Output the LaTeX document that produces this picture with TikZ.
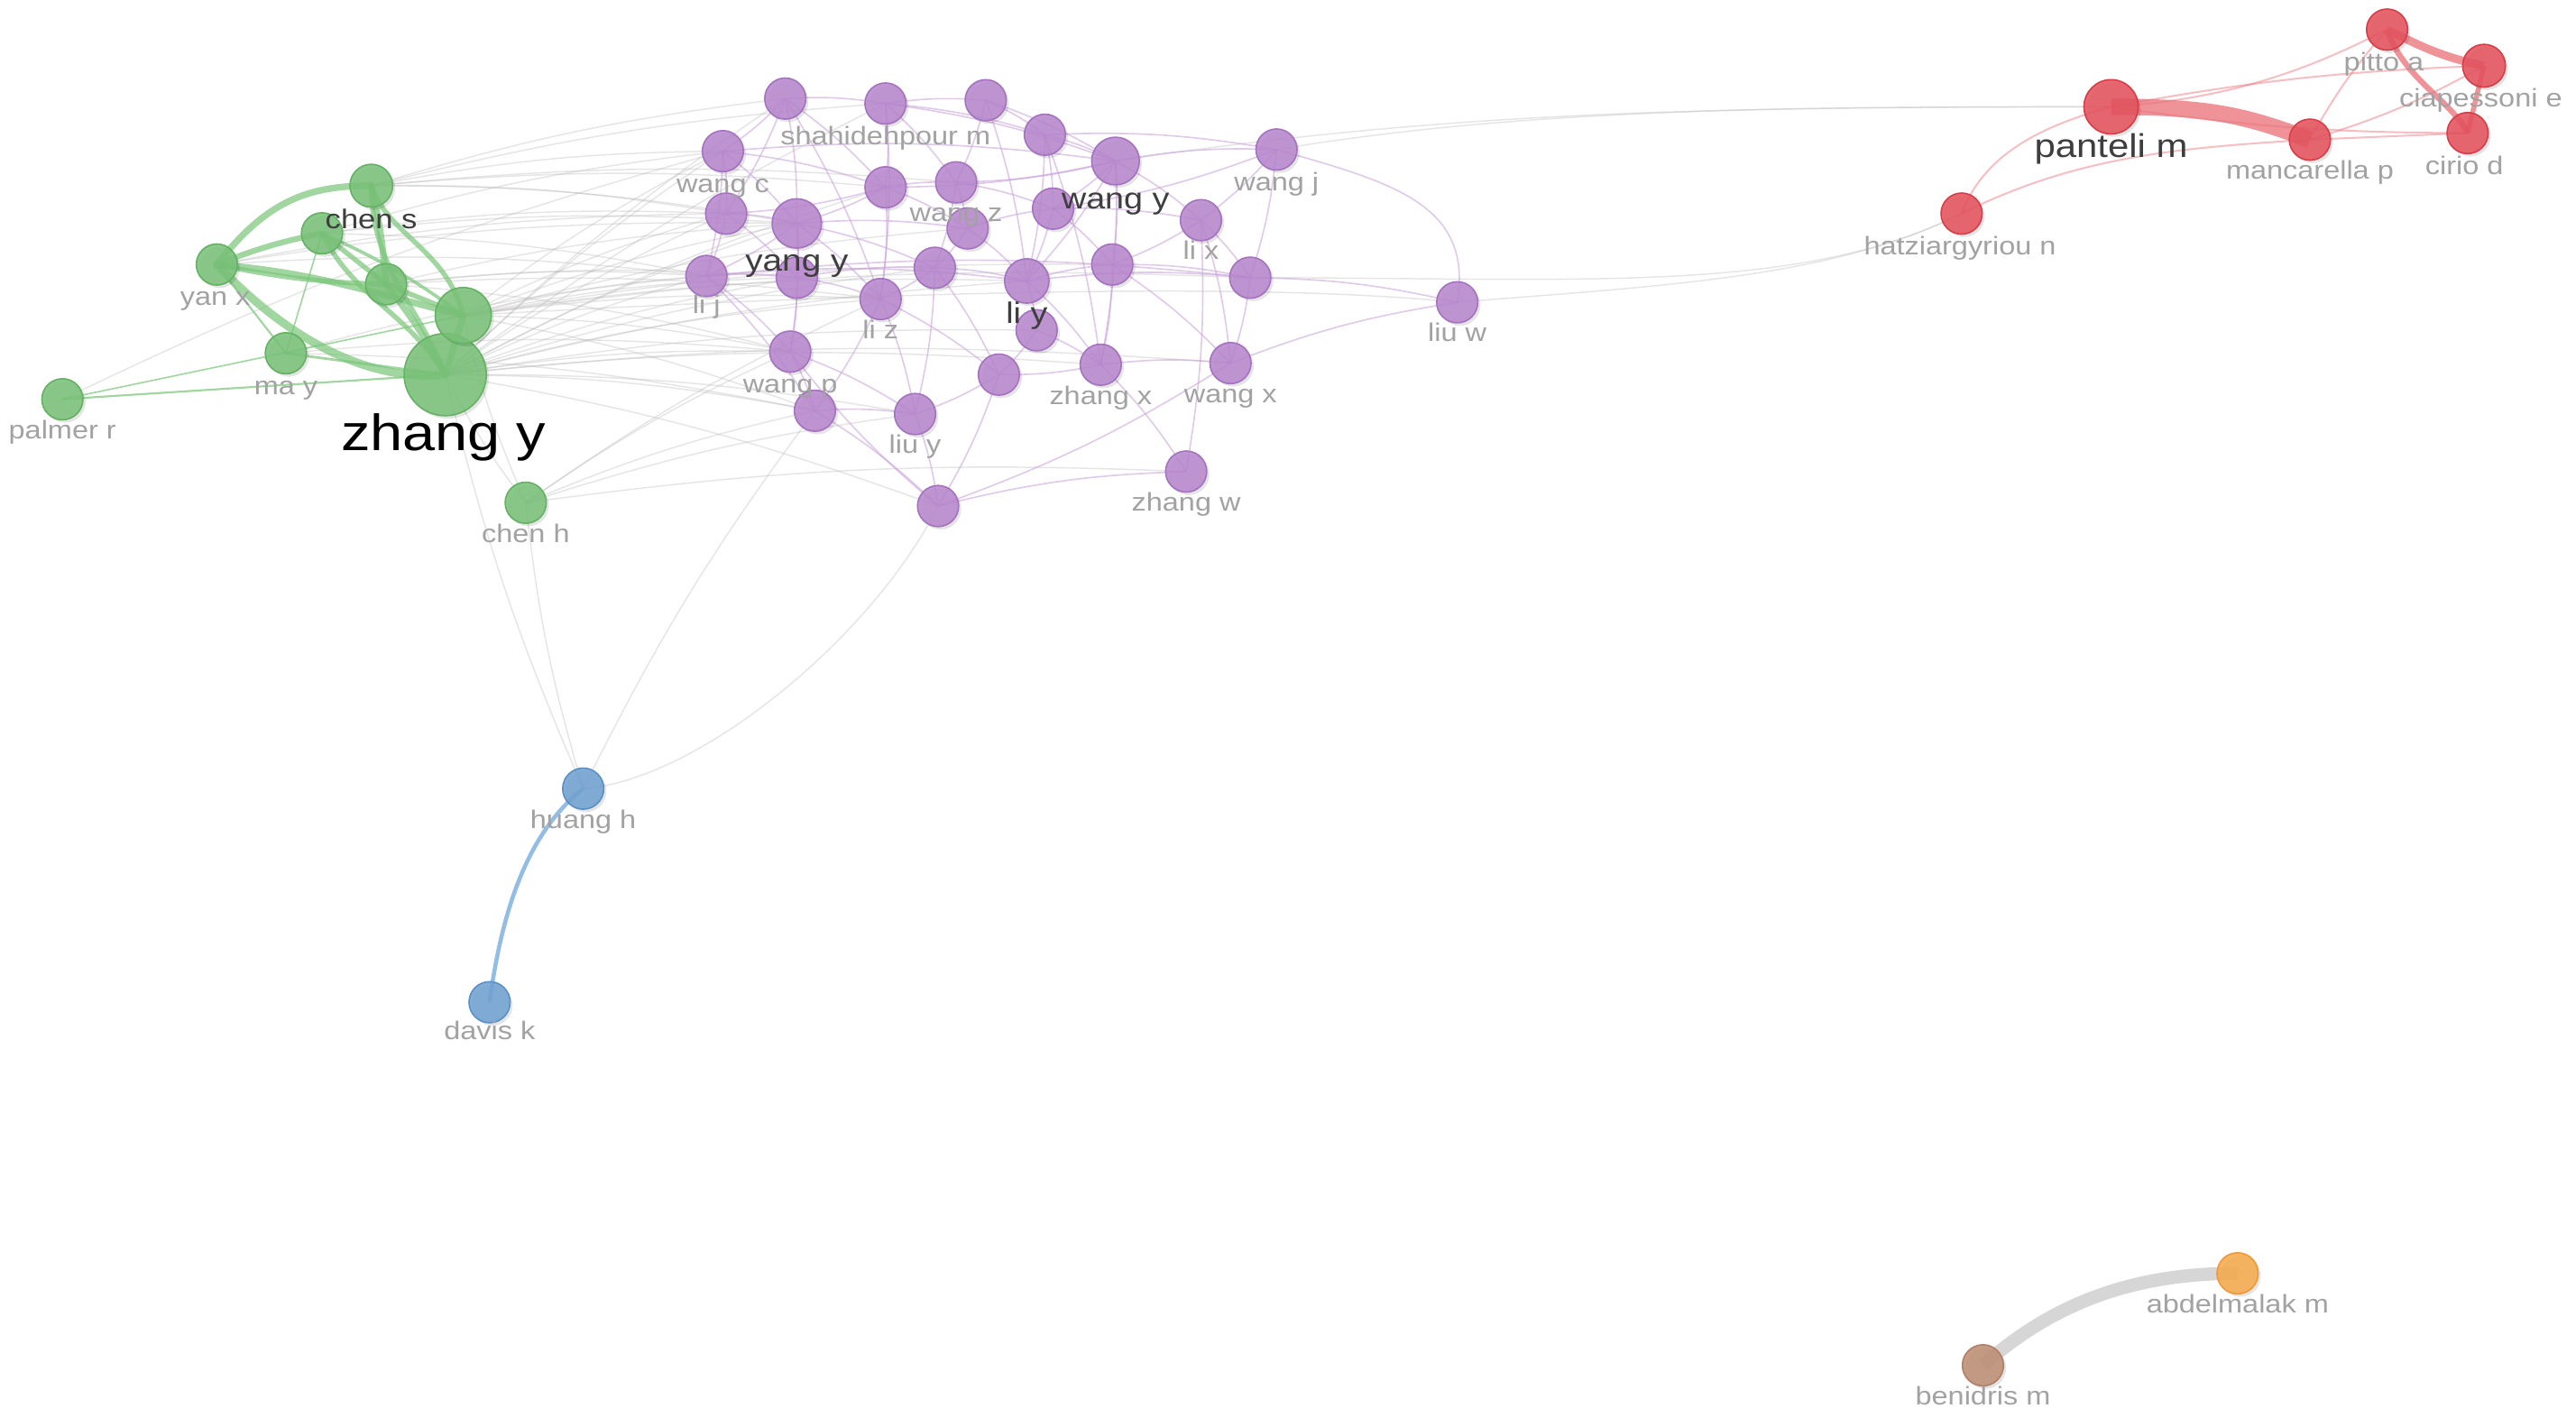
\documentclass[tikz,border=0pt]{standalone}
\usepackage{fontspec}
\usetikzlibrary{shadows}
\newfontfamily\lab[FakeStretch=1.15]{Liberation Sans}
\definecolor{cG}{RGB}{122,194,122}
\definecolor{cGd}{RGB}{100,178,100}
\definecolor{cGe}{RGB}{122,198,122}
\definecolor{cP}{RGB}{184,136,206}
\definecolor{cPd}{RGB}{165,115,192}
\definecolor{cPe}{RGB}{200,160,218}
\definecolor{cR}{RGB}{228,84,94}
\definecolor{cRd}{RGB}{215,62,72}
\definecolor{cRe}{RGB}{234,112,120}
\definecolor{cB}{RGB}{114,162,210}
\definecolor{cBd}{RGB}{90,145,200}
\definecolor{cBe}{RGB}{130,178,226}
\definecolor{cO}{RGB}{246,172,78}
\definecolor{cOd}{RGB}{240,152,55}
\definecolor{cBr}{RGB}{190,144,118}
\definecolor{cBrd}{RGB}{178,126,100}
\definecolor{cE}{RGB}{185,185,185}
\definecolor{cL}{RGB}{162,162,162}
\definecolor{cD}{RGB}{62,62,62}
\pgfdeclarelayer{bgl}
\pgfdeclarelayer{edges}
\pgfsetlayers{bgl,edges,main}
\tikzset{
  vn/.style={circle, inner sep=0pt, minimum size=#1pt, fill opacity=0.88, line width=0.9pt,
    drop shadow={shadow xshift=1.6pt, shadow yshift=-1.8pt, opacity=0.1, fill=black}},
  gn/.style={vn=#1, fill=cG, draw=cGd},
  pn/.style={vn=#1, fill=cP, draw=cPd},
  rn/.style={vn=#1, fill=cR, draw=cRd},
  bn/.style={vn=#1, fill=cB, draw=cBd},
  on/.style={vn=#1, fill=cO, draw=cOd},
  brn/.style={vn=#1, fill=cBr, draw=cBrd},
  lbl/.style={anchor=base, inner sep=0pt, text=cL, font=\lab\fontsize{15.5}{18}\selectfont},
  lbld/.style={anchor=base, inner sep=0pt, text=cD, font=\lab\fontsize{#1}{#1}\selectfont},
  ge/.style={draw=cGe, line width=#1pt, draw opacity=0.7, line cap=round},
  pe/.style={draw=cPe, line width=0.9pt, draw opacity=0.55},
  ye/.style={draw=cE, line width=0.8pt, draw opacity=0.36},
  re/.style={draw=cRe, line width=#1pt, draw opacity=0.75},
  rt/.style={draw=cRe, line width=1.1pt, draw opacity=0.45},
}
\begin{document}
\begin{tikzpicture}[x=1pt,y=-1pt]
\begin{pgfonlayer}{bgl}
\fill[white] (0,0) rectangle (1568,868);
\end{pgfonlayer}
\useasboundingbox (0,0) rectangle (1568,868);
% green cluster
\node[gn=50] (zy) at (271,228) {};
\node[gn=34] (gb) at (282,192) {};
\node[gn=26] (cs) at (226,113) {};
\node[gn=25] (ga) at (196,142) {};
\node[gn=25] (gc) at (235,173) {};
\node[gn=25] (yx) at (132,161) {};
\node[gn=25] (my) at (174,215) {};
\node[gn=25] (pr) at (38,243) {};
\node[gn=25] (ch) at (320,306) {};
% purple cluster
\node[pn=25] (p1) at (478,60) {};
\node[pn=25] (sm) at (539,63) {};
\node[pn=25] (p3) at (600,61) {};
\node[pn=25] (p4) at (636,82) {};
\node[pn=25] (wc) at (440,92) {};
\node[pn=29] (wy) at (679,98) {};
\node[pn=25] (wj) at (777,91) {};
\node[pn=25] (p8) at (539,114) {};
\node[pn=25] (wz) at (582,111) {};
\node[pn=25] (p10) at (442,130) {};
\node[pn=30] (yy) at (485,136) {};
\node[pn=25] (p12) at (589,139) {};
\node[pn=25] (p13) at (641,127) {};
\node[pn=25] (lx) at (731,134) {};
\node[pn=25] (lj) at (430,168) {};
\node[pn=25] (p16) at (485,169) {};
\node[pn=25] (p17) at (569,163) {};
\node[pn=27] (ly) at (625,171) {};
\node[pn=25] (p19) at (677,161) {};
\node[pn=25] (p20) at (761,169) {};
\node[pn=25] (lz) at (536,182) {};
\node[pn=25] (p22) at (631,201) {};
\node[pn=25] (lw) at (887,184) {};
\node[pn=25] (wp) at (481,214) {};
\node[pn=25] (zx) at (670,222) {};
\node[pn=25] (wx) at (749,221) {};
\node[pn=25] (p27) at (608,228) {};
\node[pn=25] (p28) at (496,250) {};
\node[pn=25] (liy) at (557,252) {};
\node[pn=25] (zw) at (722,287) {};
\node[pn=25] (p31) at (571,308) {};
% red cluster
\node[rn=33] (pm) at (1285,65) {};
\node[rn=25] (pa) at (1453,18) {};
\node[rn=26] (ce) at (1512,40) {};
\node[rn=25] (cd) at (1502,81) {};
\node[rn=25] (mp) at (1406,85) {};
\node[rn=25] (hn) at (1194,130) {};
% blue, orange, brown
\node[bn=25] (hh) at (355,480) {};
\node[bn=25] (dk) at (298,610) {};
\node[on=25] (ab) at (1362,775) {};
\node[brn=25] (bm) at (1207,831) {};

\begin{pgfonlayer}{edges}
% gray inter-cluster edges
\foreach \a/\b in {zy/wc,zy/p10,zy/lj,zy/yy,zy/p16,zy/lz,zy/wp,zy/p28,zy/liy,zy/ly,zy/p17,zy/p1,zy/p22,zy/zx,zy/wx,zy/p31,zy/sm,zy/p8,
  gb/lj,gb/p16,gb/yy,gb/lz,gb/ly,gb/p10,gb/wc,gb/p28,gb/wp,gb/p19,gb/p20,gb/p12,
  cs/p1,cs/wc,cs/p10,cs/yy,cs/sm,cs/p8,cs/wz,
  ga/p10,ga/lj,ga/yy,ga/wc,gc/lj,gc/p16,gc/wp,gc/yy,gc/lz,
  yx/lj,yx/yy,yx/p10,my/wp,my/lj,my/p28,pr/wc,
  ch/zw,ch/p28,ch/lz,ch/liy,ch/wp,hh/ch,hh/zy,hh/p28,ch/zy,ch/gb}
  \draw[ye] (\a.center) to[bend left=5] (\b.center);
\draw[ye] (gb.center) .. controls (500,180) and (750,170) .. (lw.center);
\draw[ye] (wj.center) .. controls +(150,-25) and +(-200,0) .. (pm.center);
\draw[ye] (wy.center) .. controls +(200,-30) and +(-250,0) .. (pm.center);
\draw[ye] (lw.center) .. controls +(120,-10) and +(-80,40) .. (hn.center);
\draw[ye] (p20.center) .. controls +(200,0) and +(-100,50) .. (hn.center);
\draw[ye] (hh.center) .. controls +(70,-5) and +(-40,80) .. (p31.center);
% purple edges
\foreach \a/\b in {p1/sm,p1/wc,p1/p8,p1/yy,p1/p10,p1/lz,sm/p3,sm/p8,sm/p4,sm/wz,sm/wy,sm/lz,
  p3/p4,p3/wz,p3/wy,p3/ly,p4/wy,p4/wj,p4/p13,p4/ly,p4/zx,wc/p10,wc/p8,wc/yy,wc/wy,wc/lj,
  wy/wj,wy/p13,wy/lx,wy/p19,wy/ly,wy/zx,wy/wz,wy/p8,wj/lx,wj/p20,wj/p13,
  p8/wz,p8/yy,p8/lz,p8/p10,p8/p12,wz/p12,wz/p13,wz/p17,p10/yy,p10/lj,p10/p16,
  yy/p16,yy/lj,yy/p17,yy/wp,yy/lz,yy/p12,p12/p17,p12/ly,p12/p13,p13/lx,p13/p19,p13/ly,
  lx/p19,lx/p20,lx/wx,lx/zw,lj/p16,lj/wp,lj/p28,lj/ly,lj/p20,p16/lz,p16/wp,p16/p17,
  p17/ly,p17/lz,p17/liy,p17/p27,ly/p19,ly/p22,ly/zx,ly/p20,p19/p20,p19/zx,p19/wx,p20/wx,
  p20/lw,lz/liy,lz/p27,lz/p28,p22/p27,p22/zx,wp/p28,wp/liy,zx/wx,zx/zw,zx/p27,wx/lw,
  p27/liy,p27/p31,p28/liy,p28/p31,liy/p31,p31/zw,p31/wp,wx/p31}
  \draw[pe] (\a.center) to[bend left=6] (\b.center);
\draw[pe] (wj.center) .. controls +(70,20) and +(10,-60) .. (lw.center);
% green edges
\draw[ge=4] (yx.center) .. controls +(30,-38) and +(-40,0) .. (cs.center);
\draw[ge=3.5] (yx.center) to[bend left=5] (ga.center);
\draw[ge=4] (yx.center) .. controls +(60,5) and +(-60,-15) .. (gb.center);
\draw[ge=5] (yx.center) .. controls +(40,42) and +(-50,5) .. (zy.center);
\draw[ge=3] (yx.center) to[bend right=5] (gc.center);
\draw[ge=1.2] (yx.center) -- (my.center);
\draw[ge=4] (cs.center) to[bend left=4] (gc.center);
\draw[ge=3] (cs.center) .. controls +(0,50) and +(-15,-40) .. (zy.center);
\draw[ge=3] (cs.center) .. controls +(10,30) and +(-10,-40) .. (gb.center);
\draw[ge=3] (ga.center) .. controls +(20,40) and +(-25,-40) .. (zy.center);
\draw[ge=3] (ga.center) -- (gc.center);
\draw[ge=2] (ga.center) to[bend left=6] (gb.center);
\draw[ge=3] (gc.center) -- (gb.center);
\draw[ge=4] (gc.center) to[bend left=5] (zy.center);
\draw[ge=4] (gb.center) -- (zy.center);
\draw[ge=1.5] (my.center) -- (zy.center);
\draw[ge=0.9] (my.center) -- (ga.center);
\draw[ge=1.2] (pr.center) -- (zy.center);
\draw[ge=0.9] (pr.center) -- (gb.center);
% red edges
\draw[re=10] (pm.center) .. controls +(60,0) and +(-40,-15) .. (mp.center);
\draw[re=5] (pa.center) .. controls +(20,10) and +(-25,-5) .. (ce.center);
\draw[re=3.5] (pa.center) .. controls +(10,30) and +(-10,-20) .. (cd.center);
\draw[re=3] (ce.center) -- (cd.center);
\draw[rt] (pm.center) .. controls +(80,-5) and +(-40,20) .. (pa.center);
\draw[rt] (pm.center) to[bend left=4] (ce.center);
\draw[rt] (pm.center) to[bend right=4] (cd.center);
\draw[rt] (mp.center) to[bend left=6] (pa.center);
\draw[rt] (mp.center) to[bend right=6] (ce.center);
\draw[rt] (mp.center) -- (cd.center);
\draw[rt] (hn.center) .. controls +(15,-40) and +(-35,10) .. (pm.center);
\draw[rt] (hn.center) .. controls +(70,-35) and +(-80,5) .. (mp.center);
% blue and gray pair
\draw[draw=cBe, line width=2.5pt, draw opacity=0.85] (dk.center) .. controls +(10,-75) and +(-25,20) .. (hh.center);
\draw[draw=black!16, line width=8pt] (bm.center) .. controls +(45,-40) and +(-60,0) .. (ab.center);
\end{pgfonlayer}

% labels
\node[lbl] (l-pr) at (38,267) {palmer r};
\node[lbl] (l-yx) at (131,186) {yan x};
\node[lbl] (l-my) at (174,240) {ma y};
\node[lbld=16.5] (l-cs) at (226,139) {chen s};
\node[lbld=31, text=black] (l-zy) at (270,274) {zhang y};
\node[lbl] (l-ch) at (320,330) {chen h};
\node[lbl] (l-sm) at (539,88) {shahidehpour m};
\node[lbl] (l-wc) at (440,117) {wang c};
\node[lbl] (l-wz) at (582,135) {wang z};
\node[lbld=18] (l-wy) at (679,127) {wang y};
\node[lbl] (l-wj) at (777,116) {wang j};
\node[lbld=18.5] (l-yy) at (485,165) {yang y};
\node[lbl] (l-lx) at (731,158) {li x};
\node[lbl] (l-lj) at (430,191) {li j};
\node[lbld=18] (l-ly) at (625,197) {li y};
\node[lbl] (l-lz) at (536,206) {li z};
\node[lbl] (l-lw) at (887,208) {liu w};
\node[lbl] (l-wp) at (481,239) {wang p};
\node[lbl] (l-zx) at (670,246) {zhang x};
\node[lbl] (l-wx) at (749,245) {wang x};
\node[lbl] (l-liy) at (557,276) {liu y};
\node[lbl] (l-zw) at (722,311) {zhang w};
\node[lbld=20] (l-pm) at (1285,96) {panteli m};
\node[lbl] (l-pa) at (1451,43) {pitto a};
\node[lbl] (l-ce) at (1510,65) {ciapessoni e};
\node[lbl] (l-cd) at (1500,106) {cirio d};
\node[lbl] (l-mp) at (1406,109) {mancarella p};
\node[lbl] (l-hn) at (1193,155) {hatziargyriou n};
\node[lbl] (l-hh) at (355,504) {huang h};
\node[lbl] (l-dk) at (298,633) {davis k};
\node[lbl] (l-ab) at (1362,799) {abdelmalak m};
\node[lbl] (l-bm) at (1207,855) {benidris m};
\end{tikzpicture}
\end{document}
